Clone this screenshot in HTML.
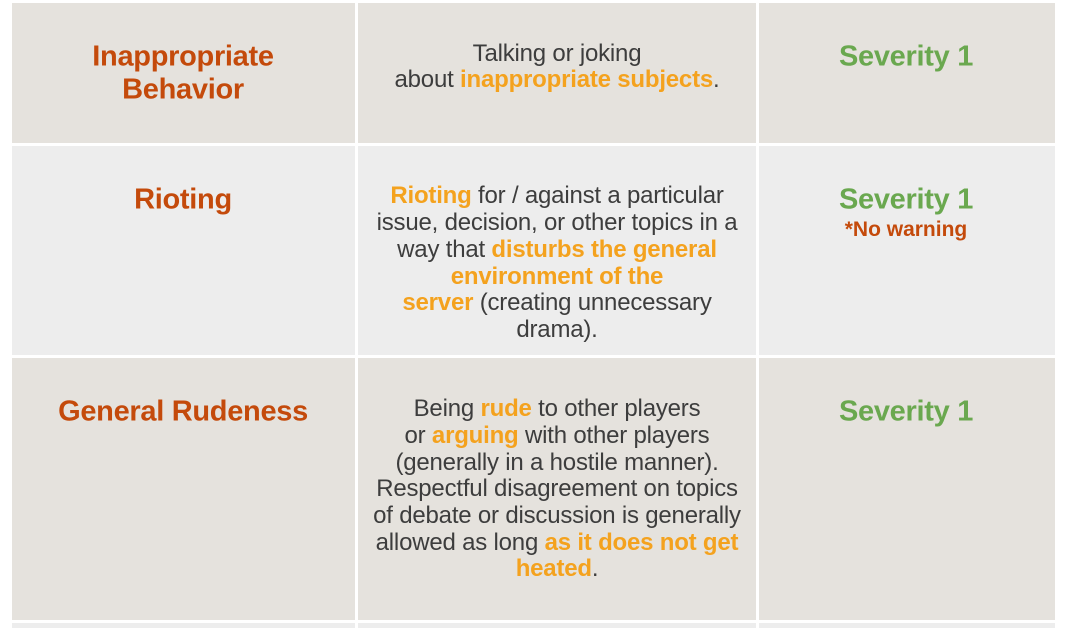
<!DOCTYPE html>
<html><head><meta charset="utf-8"><style>
body{margin:0;width:1065px;height:624px;background:#fff;position:relative;overflow:hidden;font-family:"Liberation Sans",sans-serif}
.c{position:absolute}
.b{background:#e5e2dd}.g{background:#ededed}
.l{position:absolute;white-space:nowrap;transform:translate(-50%,-50%);text-align:center}
.t{color:#c44a0b;font-size:29px;font-weight:bold;letter-spacing:-0.3px}
.s{color:#6aa84f;font-size:29px;font-weight:bold;letter-spacing:-0.3px}
.x{color:#3d3d3d;font-size:24px;letter-spacing:-0.2px}
.h{color:#f4a21e;font-weight:bold}
.w{color:#c44a0b;font-size:21px;font-weight:bold}
</style></head><body>
<div class="c b" style="left:12px;top:3px;width:343px;height:140px"></div>
<div class="c b" style="left:358px;top:3px;width:398px;height:140px"></div>
<div class="c b" style="left:759px;top:3px;width:296px;height:140px"></div>
<div class="c g" style="left:12px;top:146px;width:343px;height:209px"></div>
<div class="c g" style="left:358px;top:146px;width:398px;height:209px"></div>
<div class="c g" style="left:759px;top:146px;width:296px;height:209px"></div>
<div class="c b" style="left:12px;top:358px;width:343px;height:262px"></div>
<div class="c b" style="left:358px;top:358px;width:398px;height:262px"></div>
<div class="c b" style="left:759px;top:358px;width:296px;height:262px"></div>
<div class="c g" style="left:12px;top:623px;width:343px;height:5px"></div>
<div class="c g" style="left:358px;top:623px;width:398px;height:5px"></div>
<div class="c g" style="left:759px;top:623px;width:296px;height:5px"></div>

<div class="l t" style="left:183px;top:57px">Inappropriate</div>
<div class="l t" style="left:183px;top:90px">Behavior</div>
<div class="l x" style="left:557px;top:54px">Talking or joking</div>
<div class="l x" style="left:557px;top:80px">about <span class="h">inappropriate subjects</span>.</div>
<div class="l s" style="left:906px;top:57px">Severity 1</div>

<div class="l t" style="left:183px;top:200px">Rioting</div>
<div class="l x" style="left:557px;top:196px"><span class="h">Rioting</span> for / against a particular</div>
<div class="l x" style="left:557px;top:223px">issue, decision, or other topics in a</div>
<div class="l x" style="left:557px;top:250px">way that <span class="h">disturbs the general</span></div>
<div class="l x" style="left:557px;top:277px"><span class="h">environment of the</span></div>
<div class="l x" style="left:557px;top:303px"><span class="h">server</span> (creating unnecessary</div>
<div class="l x" style="left:557px;top:330px">drama).</div>
<div class="l s" style="left:906px;top:200px">Severity 1</div>
<div class="l w" style="left:906px;top:230px">*No warning</div>

<div class="l t" style="left:183px;top:412px">General Rudeness</div>
<div class="l x" style="left:557px;top:409px">Being <span class="h">rude</span> to other players</div>
<div class="l x" style="left:557px;top:436px">or <span class="h">arguing</span> with other players</div>
<div class="l x" style="left:557px;top:463px">(generally in a hostile manner).</div>
<div class="l x" style="left:557px;top:489px">Respectful disagreement on topics</div>
<div class="l x" style="left:557px;top:516px">of debate or discussion is generally</div>
<div class="l x" style="left:557px;top:543px">allowed as long <span class="h">as it does not get</span></div>
<div class="l x" style="left:557px;top:569px"><span class="h">heated</span>.</div>
<div class="l s" style="left:906px;top:412px">Severity 1</div>
</body></html>
